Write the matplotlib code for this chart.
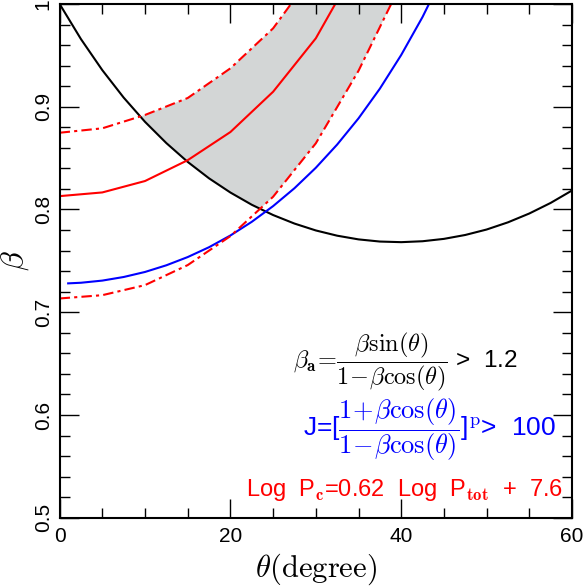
import matplotlib
matplotlib.use('Agg')
import matplotlib.pyplot as plt
from matplotlib.patches import Polygon

plt.rcParams['font.family'] = ['Liberation Sans', 'DejaVu Sans']
plt.rcParams['mathtext.fontset'] = 'cm'

# black: beta_a = 1.2 boundary
theta_black = [0, 2.5, 5, 7.5, 10, 12.5, 15, 17.5, 20, 22.5, 25, 27.5, 30, 32.5,
               35, 37.5, 40, 42.5, 45, 47.5, 50, 52.5, 55, 57.5, 60]
beta_black = [1.000, 0.9658, 0.9356, 0.9089, 0.8853, 0.8646, 0.8463, 0.8303,
              0.8165, 0.8046, 0.7946, 0.7863, 0.7796, 0.7745, 0.7709, 0.7688,
              0.7682, 0.7691, 0.7714, 0.7752, 0.7805, 0.7875, 0.7961, 0.8064,
              0.8185]

# blue: J > 100
theta_blue = [1, 2.5, 5, 7.5, 10, 12.5, 15, 17.5, 20, 22.5, 25, 27.5, 30, 32.5,
              35, 37.5, 40, 42.5, 45]
beta_blue = [0.7281, 0.7287, 0.7308, 0.7343, 0.7392, 0.7457, 0.7537, 0.7633,
             0.7747, 0.7880, 0.8033, 0.8207, 0.8406, 0.8632, 0.8887, 0.9176,
             0.9504, 0.9874, 1.0295]

# red: Log Pc relation, central and bounds
theta_red = [0, 5, 10, 15, 20, 25, 30, 35]
beta_red = [0.813, 0.8166, 0.8277, 0.848, 0.8754, 0.9146, 0.9666, 1.040]
theta_up = [0, 5, 10, 15, 20, 25, 30]
beta_up = [0.8747, 0.879, 0.892, 0.9085, 0.9374, 0.9763, 1.033]
theta_lo = [0, 5, 10, 15, 20, 25, 30, 35, 40]
beta_lo = [0.7134, 0.7166, 0.7264, 0.7459, 0.7741, 0.8124, 0.8644, 0.9350, 1.020]

fig = plt.figure(figsize=(5.88, 5.87), dpi=100)
ax = fig.add_axes([0.1014, 0.118, 0.8714, 0.8752])

# gray band between the dash-dot bounds, only above the black curve
band = list(zip(theta_up, beta_up)) + list(zip(theta_lo, beta_lo))[::-1]
patch = ax.fill([p[0] for p in band], [p[1] for p in band],
                color='#d3d6d6', lw=0, zorder=0)[0]
clip = Polygon(list(zip(theta_black, beta_black)) + [(60, 1.3), (0, 1.3)],
               closed=True, transform=ax.transData)
patch.set_clip_path(clip)

dd = (0, (5, 2, 1.5, 2))
ax.plot(theta_black, beta_black, color='black', lw=1.5)
ax.plot(theta_blue, beta_blue, color='blue', lw=1.5)
ax.plot(theta_red, beta_red, color='red', lw=1.5)
ax.plot(theta_up, beta_up, color='red', lw=1.5, ls=dd)
ax.plot(theta_lo, beta_lo, color='red', lw=1.5, ls=dd)

ax.set_xlim(0, 60)
ax.set_ylim(0.5, 1.0)
ax.set_xticks([0, 20, 40, 60])
ax.set_xticks(range(0, 61, 5), minor=True)
ax.set_yticks([0.5, 0.6, 0.7, 0.8, 0.9, 1.0])
ax.set_yticklabels(['0.5', '0.6', '0.7', '0.8', '0.9', '1'])
ax.set_yticks([0.5 + 0.02 * i for i in range(26)], minor=True)
ax.tick_params(which='both', direction='in', top=True, right=True, labelsize=15)
ax.tick_params(which='major', length=14, width=1)
ax.tick_params(which='minor', length=7, width=1)
ax.tick_params(axis='x', pad=7)
ax.tick_params(axis='y', labelrotation=90, pad=5)
for lab in ax.get_yticklabels():
    lab.set_va('center')
for s in ax.spines.values():
    s.set_linewidth(1.5)

ax.set_xlabel(r'$\theta(\mathrm{degree})$', fontsize=22, labelpad=4)
ax.set_ylabel(r'$\beta$', fontsize=23, labelpad=2)

ax.text(0.895, 0.303, r'$\beta_{\mathbf{a}}\!=\!\dfrac{\beta\sin(\theta)}{1\!-\!\beta\cos(\theta)}$ >  1.2',
        transform=ax.transAxes, ha='right', va='center', fontsize=17.5, color='black')
ax.text(0.968, 0.171, r'J=[$\dfrac{1\!+\!\beta\cos(\theta)}{1\!-\!\beta\cos(\theta)}$]$^{\rm p}$>  100',
        transform=ax.transAxes, ha='right', va='center', fontsize=19, color='blue')
ax.text(0.982, 0.054, r'Log  P$_{\mathbf{c}}$=0.62  Log  P$_{\mathbf{tot}}$  +  7.6',
        transform=ax.transAxes, ha='right', va='center', fontsize=17, color='red')

fig.savefig('out.png', dpi=100)
